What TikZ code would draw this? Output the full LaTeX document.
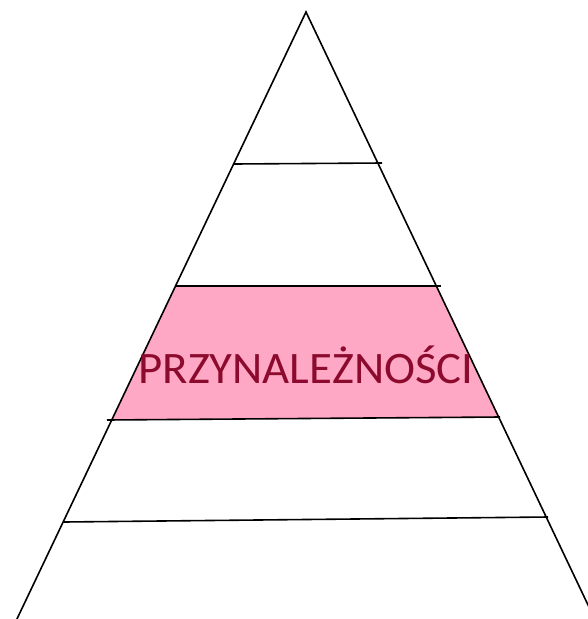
\documentclass[tikz,border=0pt]{standalone}
\usepackage{fontspec}
\setmainfont{Carlito}
\definecolor{bandpink}{RGB}{255,168,198}
\definecolor{txtred}{RGB}{140,10,45}
\begin{document}
\begin{tikzpicture}[x=1pt,y=-1pt]
\tikzset{edge/.style={line width=1.6pt,black},
         level/.style={line width=1.6pt,black},
         label/.style={font=\fontsize{45}{45}\selectfont,text=txtred,inner sep=0pt,xscale=1.04}}
\useasboundingbox (0,0) rectangle (588,619);
% pink band
\fill[bandpink] (175.5,286) -- (436.5,286) -- (499,418) -- (112.5,419) -- cycle;
% horizontal levels
\draw[level] (234,164) -- (382,163);
\draw[level] (175,286) -- (441,286);
\draw[level] (107,420) -- (500,417);
\draw[level] (64,522) -- (548,517);
% triangle sides
\coordinate (apex) at (306,12);
\coordinate (bl) at (16,621);
\coordinate (br) at (589,607);
\draw[edge] (bl) -- (apex) -- (br);
\node[label,anchor=base] (t) at (306,383) {PRZYNALEŻNOŚCI};
\end{tikzpicture}
\end{document}
